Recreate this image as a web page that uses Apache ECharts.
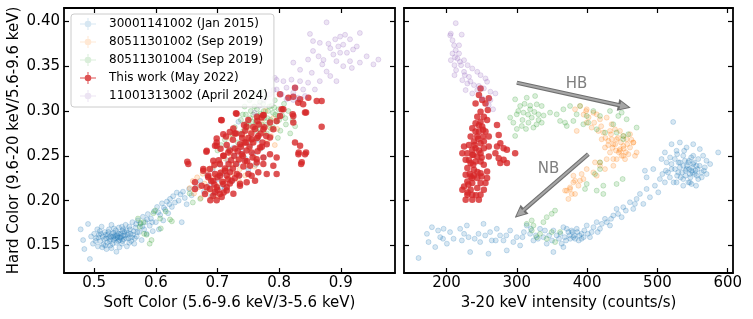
<!DOCTYPE html>
<html><head><meta charset="utf-8">
<script src="https://cdn.jsdelivr.net/npm/echarts@6/dist/echarts.min.js"></script>
<style>html,body{margin:0;padding:0;background:#fff}#c{width:753px;height:319px}</style>
</head><body><div id="c"></div>
<script>
const seriesNames = ['30001141002 (Jan 2015)','80511301002 (Sep 2019)','80511301004 (Sep 2019)','This work (May 2022)','11001313002 (April 2024)'];
const seriesColors = ['31,119,180','255,127,14','44,160,44','214,39,40','148,103,189'];
const softTicks = [0.5,0.6,0.7,0.8,0.9];
const hardTicks = [0.15,0.20,0.25,0.30,0.35,0.40];
const intensityTicks = [200,300,400,500,600];
const softRange = [0.451,0.988];
const hardRange = [0.1193,0.4149];
const intensityRange = [139.5,607.5];

// Left panel: [soft color, hard color]
const blueLeft = [
[0.478,0.168],[0.484,0.146],[0.482,0.156],[0.493,0.135],[0.490,0.174],[0.495,0.160],[0.498,0.152],[0.500,0.163],[0.503,0.158],[0.505,0.168],[0.506,0.149],[0.508,0.162],[0.510,0.155],[0.512,0.171],[0.514,0.160],[0.515,0.151],[0.517,0.165],[0.519,0.158],[0.520,0.146],[0.522,0.162],[0.524,0.168],[0.525,0.155],[0.527,0.160],[0.528,0.173],[0.530,0.152],[0.531,0.164],[0.533,0.158],[0.535,0.167],[0.536,0.143],[0.537,0.161],[0.539,0.155],[0.540,0.170],[0.542,0.159],[0.543,0.163],[0.545,0.152],[0.546,0.166],[0.548,0.157],[0.550,0.161],[0.551,0.173],[0.553,0.149],[0.555,0.164],[0.556,0.158],[0.558,0.168],[0.560,0.155],[0.562,0.176],[0.563,0.162],[0.565,0.152],[0.567,0.170],[0.569,0.160],[0.571,0.178],[0.573,0.165],[0.575,0.174],[0.577,0.156],[0.579,0.182],[0.581,0.168],[0.583,0.176],[0.585,0.163],[0.587,0.185],[0.590,0.172],[0.592,0.180],[0.595,0.166],[0.597,0.188],[0.600,0.176],[0.602,0.193],[0.605,0.168],[0.607,0.184],[0.610,0.197],[0.612,0.178],[0.615,0.190],[0.618,0.199],[0.620,0.186],[0.623,0.202],[0.626,0.193],[0.628,0.205],[0.631,0.198],[0.634,0.209],[0.637,0.200],[0.640,0.207],[0.642,0.176],[0.644,0.210],[0.647,0.203],[0.650,0.196],[0.654,0.213],[0.658,0.206],
[0.665,0.215],[0.672,0.222],[0.678,0.210],[0.683,0.228],[0.688,0.218],[0.692,0.235],[0.695,0.208],[0.700,0.224],[0.704,0.240],[0.708,0.230],[0.712,0.214],[0.716,0.245],[0.720,0.236],[0.724,0.222],[0.728,0.250],[0.732,0.241],[0.734,0.288],[0.736,0.228],[0.740,0.256],[0.745,0.247],[0.750,0.235],[0.753,0.262],[0.758,0.252],[0.762,0.240],[0.766,0.268],[0.770,0.258],[0.775,0.248],[0.726,0.259],[0.705,0.215],[0.690,0.205],
[0.518,0.150],[0.528,0.147],[0.541,0.148],[0.532,0.169],[0.545,0.171],[0.509,0.166],[0.552,0.167],[0.526,0.157],[0.538,0.164],[0.547,0.161],
[0.502,0.155],[0.507,0.159],[0.511,0.163],[0.513,0.148],[0.516,0.157],[0.521,0.153],[0.523,0.165],[0.526,0.150],[0.529,0.163],[0.532,0.156],[0.534,0.161],[0.536,0.153],[0.538,0.159],[0.540,0.163],[0.541,0.156],[0.544,0.160],[0.546,0.155],[0.549,0.165],[0.552,0.158],[0.554,0.162],[0.557,0.153],[0.559,0.163],[0.561,0.159],[0.564,0.166],[0.566,0.158],[0.570,0.165],[0.524,0.159],[0.531,0.160],[0.535,0.158],[0.543,0.158],[0.519,0.162],[0.547,0.168],[0.557,0.171],[0.568,0.174],[0.578,0.171],[0.586,0.179],[0.594,0.176],[0.604,0.187],[0.613,0.192],[0.622,0.196]
];
const orangeLeft = [
[0.655,0.214],[0.660,0.222],[0.662,0.208],[0.667,0.226],[0.670,0.215],[0.673,0.203],[0.676,0.230],[0.679,0.219],[0.682,0.210],[0.685,0.235],[0.688,0.224],[0.691,0.204],[0.694,0.238],[0.697,0.228],[0.700,0.216],[0.703,0.242],[0.706,0.232],[0.709,0.221],[0.712,0.247],[0.715,0.236],[0.718,0.226],[0.721,0.252],[0.724,0.240],[0.727,0.230],[0.730,0.258],[0.733,0.246],[0.736,0.235],[0.739,0.262],[0.742,0.250],[0.745,0.271],[0.748,0.240],[0.751,0.258],[0.754,0.276],[0.757,0.265],[0.760,0.248],[0.763,0.283],[0.766,0.270],[0.769,0.258],[0.772,0.288],[0.775,0.276],[0.778,0.300],[0.781,0.266],[0.784,0.282],[0.787,0.272],[0.790,0.292],[0.793,0.262],[0.797,0.280],[0.765,0.292],[0.750,0.282],[0.720,0.270],[0.700,0.205],[0.690,0.212],[0.735,0.222],[0.745,0.228],[0.760,0.238]
];
const greenLeft = [
[0.700,0.256],[0.706,0.262],[0.712,0.268],[0.718,0.258],[0.724,0.274],[0.728,0.282],[0.733,0.265],[0.738,0.290],[0.742,0.278],[0.746,0.296],[0.750,0.284],[0.754,0.300],[0.757,0.288],[0.760,0.305],[0.763,0.278],[0.766,0.295],[0.769,0.310],[0.772,0.285],[0.775,0.300],[0.778,0.315],[0.781,0.292],[0.784,0.305],[0.787,0.280],[0.790,0.298],[0.793,0.312],[0.796,0.288],[0.799,0.302],[0.802,0.278],[0.805,0.295],[0.808,0.308],[0.811,0.285],[0.815,0.300],[0.818,0.275],[0.822,0.290],[0.826,0.283],[0.760,0.318],[0.772,0.322],[0.752,0.312],[0.744,0.305],[0.765,0.270],[0.755,0.268],[0.780,0.275],[0.735,0.275],[0.790,0.282],[0.798,0.270],
[0.758,0.296],[0.764,0.302],[0.770,0.297],[0.776,0.292],[0.782,0.300],[0.788,0.306],[0.794,0.296],[0.800,0.290],[0.806,0.302],[0.774,0.308],[0.762,0.288],[0.768,0.280],[0.786,0.290],[0.792,0.304],[0.780,0.285],[0.798,0.295],[0.810,0.292],[0.753,0.292],[0.747,0.286],[0.741,0.296],
[0.571,0.180],[0.575,0.175],[0.581,0.163],[0.585,0.162],[0.593,0.156],[0.590,0.152],[0.596,0.186],[0.599,0.189],[0.607,0.180],[0.608,0.169],[0.616,0.188],[0.623,0.179],[0.626,0.177],[0.655,0.208],[0.660,0.198],[0.672,0.202],[0.580,0.176],[0.574,0.171]
];
const redLeft = [
[0.7068,0.2897],[0.731,0.297],[0.743,0.2844],[0.7257,0.2804],[0.720,0.2767],[0.7094,0.2741],[0.6987,0.2693],[0.7138,0.2716],[0.7393,0.2741],[0.750,0.290],[0.7646,0.2889],[0.7717,0.2927],[0.7581,0.2822],[0.7744,0.2797],[0.7662,0.2722],[0.7555,0.2686],[0.7463,0.2649],[0.7365,0.263],[0.7284,0.2582],[0.7175,0.2538],[0.7094,0.250],[0.6987,0.2649],[0.6825,0.2556],[0.6987,0.2612],[0.6932,0.2444],[0.704,0.2408],[0.651,0.2433],[0.677,0.2333],[0.6878,0.2352],[0.696,0.2297],[0.685,0.226],[0.6932,0.2222],[0.704,0.2278],[0.7122,0.2333],[0.7203,0.2316],[0.7312,0.2297],[0.723,0.2222],[0.7094,0.2186],[0.6987,0.2149],[0.6878,0.213],[0.6743,0.2167],[0.6635,0.213],[0.6797,0.2074],[0.6932,0.2056],[0.704,0.2074],[0.7365,0.2167],[0.7474,0.2204],[0.7609,0.2222],[0.7555,0.2278],[0.7662,0.2316],[0.7799,0.2297],[0.7744,0.2408],[0.7528,0.2389],[0.7636,0.2463],[0.7447,0.2444],[0.7393,0.2519],[0.7555,0.2538],[0.769,0.2593],[0.7799,0.263],[0.7852,0.2704],[0.7906,0.2797],[0.7852,0.2871],[0.796,0.2889],[0.8015,0.2944],[0.8068,0.3019],[0.822,0.2963],[0.823,0.2871],[0.8437,0.2982],[0.8318,0.2538],[0.8437,0.2538],[0.8367,0.2427],[0.861,0.3111],[0.8258,0.2649],[0.7852,0.2519],[0.7906,0.2389],[0.796,0.2297],
[0.8258,0.326],[0.8015,0.3186],[0.815,0.3149],[0.823,0.316],[0.834,0.313],[0.8474,0.3149],[0.831,0.3093],[0.839,0.3074],[0.869,0.3111],[0.842,0.2982],[0.823,0.2944],[0.804,0.3019],[0.774,0.2952],[0.869,0.2825],[0.834,0.2612],[0.730,0.2974],[0.706,0.290],[0.682,0.2545],[0.696,0.2612],[0.728,0.275],[0.747,0.2825],[0.764,0.2937],[0.775,0.2955],
[0.6527,0.2408],[0.6635,0.2206],[0.677,0.2353],[0.6825,0.215],[0.6884,0.2004],[0.6987,0.2004],[0.7068,0.204],[0.696,0.2096],[0.715,0.2114],[0.7258,0.2077],[0.7366,0.2188],[0.7501,0.2298],[0.7637,0.2426],[0.7745,0.2482],[0.796,0.2482],[0.8313,0.2518],[0.842,0.2518],[0.8357,0.2408],
[0.690,0.222],[0.695,0.218],[0.700,0.226],[0.705,0.231],[0.708,0.221],[0.712,0.236],[0.715,0.228],[0.718,0.241],[0.720,0.219],[0.722,0.245],[0.725,0.236],[0.727,0.250],[0.730,0.241],[0.733,0.255],[0.735,0.246],[0.738,0.260],[0.741,0.250],[0.744,0.265],[0.747,0.256],[0.750,0.270],[0.752,0.260],[0.755,0.275],[0.758,0.265],[0.761,0.280],[0.764,0.270],[0.767,0.285],[0.770,0.275],[0.773,0.265],[0.776,0.282],[0.779,0.272],[0.700,0.212],[0.710,0.209],[0.715,0.215],[0.685,0.228],[0.695,0.240],[0.702,0.245],[0.710,0.250],[0.705,0.258],[0.715,0.262],[0.725,0.268],[0.730,0.275],[0.740,0.270],[0.745,0.278],[0.720,0.256],[0.742,0.238],[0.748,0.244],[0.757,0.248],[0.765,0.255],[0.772,0.260],[0.735,0.228],[0.728,0.225],[0.717,0.224]
];
const purpleLeft = [
[0.877,0.3989],[0.850,0.386],[0.907,0.385],[0.931,0.387],[0.899,0.383],[0.855,0.378],[0.866,0.376],[0.880,0.375],[0.891,0.380],[0.904,0.374],[0.915,0.380],[0.920,0.3686],[0.910,0.365],[0.899,0.365],[0.888,0.363],[0.883,0.370],[0.855,0.367],[0.864,0.361],[0.847,0.3574],[0.872,0.357],[0.893,0.3556],[0.915,0.3556],[0.904,0.350],[0.918,0.348],[0.931,0.354],[0.942,0.361],[0.953,0.352],[0.961,0.3574],[0.823,0.354],[0.834,0.346],[0.853,0.3426],[0.877,0.344],[0.883,0.339],[0.893,0.3333],[0.866,0.3333],[0.847,0.3316],[0.834,0.3333],[0.820,0.335],[0.807,0.3333],[0.812,0.326],[0.826,0.326],[0.839,0.324],[0.858,0.324],[0.793,0.337],[0.796,0.324],[0.804,0.3186],[0.823,0.3204],[0.785,0.3186],[0.812,0.313],[0.831,0.3149],[0.842,0.3167],[0.796,0.3347],[0.791,0.3235],[0.823,0.3123],[0.775,0.312],[0.768,0.306],[0.760,0.298],[0.870,0.352],[0.896,0.372],[0.926,0.372]
];

// Right panel: [3-20 keV intensity, hard color]
const blueRight = [
[160.2,0.136],[172.1,0.163],[179.2,0.1704],[174.4,0.1538],[183.9,0.1482],[191,0.1593],[195.8,0.1686],[200.5,0.152],[210,0.1575],[219.4,0.1686],[221.8,0.1556],[228.9,0.1723],[231.3,0.1593],[233.6,0.1427],[245.5,0.163],[247.8,0.1538],[252.6,0.1741],[262,0.1649],[264.4,0.1556],[271.5,0.1686],[276.2,0.1612],[285.7,0.1445],[281,0.1556],[290.5,0.1667],[299.9,0.1593],[304.7,0.15],[314.1,0.1723],[318.9,0.163],[323.6,0.1556],[333,0.1686],[337.8,0.1593],[342.5,0.152],[352,0.1667],[356.7,0.1612],[363.8,0.152],[366.2,0.1704],[373.3,0.1649],[380.4,0.1593],[385.2,0.1686],[392.2,0.163],[399.4,0.1723],[406.5,0.1649],[413.6,0.176],[418.3,0.1686],[425.4,0.1797],[432.5,0.1723],[437.2,0.1834],[441.9,0.1908],[449.1,0.1816],[451.4,0.1927],[460.9,0.1982],[465.6,0.1908],[470.4,0.2019],[475.1,0.2075],[479.9,0.1964],[484.6,0.213],[489.3,0.2038],[496.4,0.2167],[501.2,0.2093],[484.6,0.226],[494.1,0.2352],[482.2,0.2334],[505.9,0.2464],[510.6,0.2538],[520.1,0.263],[527.2,0.2556],[531.9,0.2649],[541.4,0.2593],[550.9,0.263],[560.3,0.2575],[565,0.2501],[569.8,0.2445],[586.4,0.2538],[522.4,0.2878],[513,0.2426],[520.1,0.2352],[529.6,0.2315],[536.7,0.2389],[543.8,0.2426],[548.5,0.2334],[555.6,0.2389],[562.7,0.2315],[558,0.2241],[546.1,0.2204],[536.7,0.2241],[527.2,0.2204],[517.7,0.226],[550.9,0.2501],[536.7,0.2501],[524.8,0.2464],[546.1,0.2297],[541.4,0.2352],[553.2,0.2297],[567.4,0.2371],[531.9,0.2371],[510.6,0.2204],[503.5,0.2241],[536.7,0.2167],[548.5,0.2186],
[352,0.1427],[366.2,0.1482],[259.7,0.1408],[376,0.1575],[382,0.1612],[388,0.1556],[395,0.1593],[378,0.1667],[370,0.1556],[360,0.1575],[346,0.1612],[327,0.1612],[308,0.1593],[295,0.1538],[240,0.1575],[205,0.1649],[188,0.1667],[540,0.2278],[532,0.2426],[545,0.2445],[557,0.2352],[515,0.2315],[528,0.2278],[551,0.2408],
[520,0.2408],[525,0.2352],[530,0.2426],[535,0.2315],[540,0.2334],[542,0.2390],[545,0.2352],[547,0.2260],[550,0.2315],[552,0.2426],[554,0.2334],[556,0.2278],[558,0.2464],[560,0.2389],[563,0.2260],[566,0.2334],[518,0.2482],[528,0.2519],[538,0.2556],[548,0.2482],[533,0.2260],[544,0.2204],[555,0.2167],[523,0.2204],[512,0.2334],[507,0.2297],[570,0.2297],[575,0.2408],[539,0.2445],[549,0.2371],
[362,0.1630],[368,0.1593],[371,0.1686],[375,0.1612],[379,0.1649],[383,0.1575],[386,0.1649],[389,0.1612],[392,0.1575],[396,0.1667],[401,0.1630],[404,0.1593],[409,0.1704],[415,0.1649],[421,0.1741],[428,0.1760],[434,0.1797],[444,0.1852],[455,0.1889],[468,0.1964],[310,0.1649],[320,0.1686],[330,0.1575],[340,0.1667],[350,0.1556],[285,0.1612],[270,0.1556],[255,0.1612],[225,0.1630],[195,0.1575]
];
const orangeRight = [
[390,0.3056],[398.5,0.2999],[408.9,0.2981],[418.3,0.2907],[427.8,0.2926],[434.9,0.2852],[439.6,0.2796],[446.7,0.2778],[451.5,0.2722],[456.2,0.2685],[461,0.2741],[465.7,0.2648],[468.1,0.25],[458.6,0.2518],[446.7,0.2574],[437.3,0.263],[430.2,0.2667],[420.7,0.2685],[425.4,0.2593],[432.5,0.2537],[442,0.2463],[451.5,0.25],[427.8,0.2463],[418.3,0.2426],[437.3,0.2389],[425.4,0.2352],[413.6,0.2278],[408.9,0.2315],[380.5,0.2278],[394.7,0.2241],[382.8,0.2222],[387.6,0.2167],[375.7,0.2148],[371,0.2111],[378.1,0.2074],[399.4,0.287],[385.2,0.2778],[406.5,0.2815],[416,0.2778],[423,0.2759],[432.5,0.2778],[442,0.2685],[451.5,0.2611],[461,0.2593],[453.9,0.2463],[434.9,0.2685],
[411.2,0.2427],[399.4,0.2352],[392.2,0.2297],[389.9,0.2223],[380.4,0.2204],[375.7,0.213],[368.6,0.2112],[382.8,0.2075],[373.3,0.2019],[437.2,0.2464],[446.7,0.2556],[465.6,0.2649],[470.4,0.2538],[418.3,0.2389],[382.8,0.3019],[399.4,0.3019],[413.6,0.2963],
[440,0.2630],[444,0.2700],[448,0.2650],[452,0.2580],[455,0.2540],[449,0.2500],[445,0.2540],[436,0.2590],[441,0.2560],[457,0.2630],[463,0.2680],[430,0.2620],[426,0.2700],[434,0.2740],[410,0.2870],[420,0.2830],[402,0.2930],[395,0.2960]
];
const greenRight = [
[297.6,0.313],[314.1,0.3148],[326,0.3167],[304.7,0.3056],[290.5,0.2926],[299.9,0.2963],[309.4,0.2982],[318.9,0.3019],[328.3,0.3074],[335.4,0.3056],[321.2,0.2926],[330.7,0.2963],[316.5,0.287],[307,0.2833],[323.6,0.2815],[297.6,0.2722],[335.4,0.287],[347.3,0.2982],[356.7,0.2963],[366.2,0.3019],[375.7,0.3056],[389.9,0.3056],[361.5,0.2889],[371,0.2833],[385.1,0.2963],[399.4,0.2945],[408.8,0.30],[418.3,0.2945],[432.5,0.30],[444.3,0.2945],[449.1,0.2982],[456.2,0.2908],[470.4,0.2815],[394.6,0.2852],[413.6,0.2796],[437.2,0.2852],[451.4,0.2722],[458.5,0.2741],[425.4,0.2759],[368.6,0.287],[380.4,0.2889],[401.7,0.287],[441.9,0.276],[451.4,0.2686],[418.3,0.2427],
[302,0.3000],[311,0.3080],[316,0.2960],[325,0.2990],[331,0.2900],[308,0.2900],[319,0.3060],[295,0.2870],[328,0.2850],[338,0.2950],[313,0.2800],[300,0.2800],
[411.2,0.2297],[418.3,0.2352],[399.4,0.2186],[397,0.213],[413.6,0.2112],[423,0.2167],[441.9,0.2186],[450.5,0.2241],[423,0.2075],[354.4,0.1889],[349.6,0.1853],[342.5,0.1816],[337.8,0.176],[323.6,0.1723],[314.1,0.1741],[321.2,0.1667],[333,0.163],[328.3,0.1593],[342.5,0.1575],[349.6,0.1649],[354.4,0.1538],[361.5,0.1649],[321.2,0.1779]
];
const redRight = [
[248.4,0.3252],[246.1,0.3178],[250.8,0.3122],[260.1,0.3141],[241.3,0.3085],[255.4,0.3085],[258.7,0.3011],[248.4,0.2993],[243.7,0.2937],[253.1,0.2937],[248.4,0.2881],[257.7,0.29],[241.3,0.2863],[236.6,0.2807],[250.7,0.2826],[245.9,0.277],[255.4,0.277],[243.6,0.2715],[234.3,0.2715],[252.1,0.2715],[260.1,0.2715],[239,0.2659],[248.4,0.2641],[231.9,0.2622],[224.9,0.2604],[241.3,0.2585],[253.1,0.2585],[260.1,0.2604],[271.8,0.2844],[274.2,0.2733],[276.5,0.2641],[271.8,0.2604],[281.2,0.2585],[285.9,0.2567],[297.6,0.253],[222.5,0.253],[229.6,0.253],[236.6,0.2511],[243.7,0.2493],[248.4,0.253],[260.1,0.2493],[269.5,0.253],[274.2,0.2474],[281.2,0.2456],[285.9,0.2419],[276.5,0.2419],[227.2,0.2456],[234.3,0.2419],[241.3,0.2437],[253,0.24],[229.6,0.2363],[239,0.2344],[248.4,0.2307],[257.7,0.2326],[227.2,0.2289],[234.3,0.227],[243.7,0.2252],[229.6,0.2215],[236.6,0.2196],[248.4,0.2196],[255.4,0.2196],[224.9,0.2159],[234.3,0.2122],[243.7,0.2141],[253.1,0.2122],[222.5,0.2122],[229.6,0.2067],[236.6,0.2067],[248.4,0.2067],[227.2,0.2011],[236.6,0.2011],[246,0.2011],[236.6,0.2252],[257.7,0.2252],[248.4,0.2437],[241.3,0.277],[253.1,0.2659],[236.6,0.2567],
[244,0.2320],[238,0.2400],[250,0.2480],[232,0.2450],[246,0.2560],[240,0.2620],[252,0.2790],[246,0.2840],[239,0.2280],[231,0.2180],[242,0.2060],[233,0.2300],[245,0.2690],[238,0.2510],[230,0.2090],[250,0.2270]
];
const purpleRight = [
[213.1,0.398],[205.2,0.3844],[221.6,0.3852],[208.5,0.3789],[210.8,0.3733],[213.1,0.3678],[208.5,0.3641],[217.8,0.3641],[215.5,0.3585],[206.1,0.3567],[224.9,0.3567],[211.3,0.3511],[220.7,0.3511],[230,0.3511],[213.6,0.3456],[224.9,0.3437],[236.6,0.3474],[243.7,0.3437],[211.3,0.34],[222.5,0.3344],[231.9,0.3381],[248.4,0.34],[255.4,0.3363],[229.6,0.3307],[239,0.3289],[257.7,0.3326],[243.7,0.3233],[253.1,0.3252],[262.4,0.3215],[269.5,0.3196],[236.6,0.3196],[227.2,0.3233],[250.7,0.3141],[262.4,0.3122],[266.2,0.3019],[260.1,0.3067],[217.8,0.3733],[206.1,0.3863],[212,0.3600],[219,0.3550],[226,0.3400],[234,0.3330],[246,0.3280]
];

const hbArrow = [[300,0.3316],[453,0.3052]];
const nbArrow = [[401.7,0.2519],[304,0.1856]];
const annotations = [{name:'HB', coord:[385,0.3295]},{name:'NB', coord:[345,0.2349]}];

const FONT = 'DejaVu Sans';
const rgba = (c,a) => 'rgba(' + c + ',' + a + ')';
const legendIcon = 'path://M0,0h0.01v0.01h-0.01z M28,14h0.01v0.01h-0.01z M4,6.5h16v1h-16z M11.5,1h1v12h-1z M15.3,7a3.3,3.3 0 1,1 -6.6,0a3.3,3.3 0 1,1 6.6,0z';

function scatter(idx, data, panel) {
  const solid = idx === 3;
  const c = seriesColors[idx];
  return {
    type: 'scatter', name: seriesNames[idx],
    xAxisIndex: panel * 2, yAxisIndex: panel * 2,
    data: data, symbol: 'circle',
    symbolSize: solid ? 6.5 : 5,
    itemStyle: solid ? {color: rgba(c,1)} : {color: rgba(c,0.22), borderColor: rgba(c,0.35), borderWidth: 0.8},
    emphasis: {disabled: true}, silent: true
  };
}

const axisLineStyle = {show: true, onZero: false, lineStyle: {color: '#000', width: 1.8}};
function xAx(gi, range, ticks, fmt, name, showLabel, top) {
  return {
    type: 'value', gridIndex: gi, min: range[0], max: range[1], position: top ? 'top' : 'bottom',
    axisLine: axisLineStyle,
    axisTick: {show: true, inside: true, length: 5, lineStyle: {color: '#000', width: 1.2}, customValues: ticks},
    axisLabel: {show: showLabel, customValues: ticks, formatter: fmt, margin: 3, fontSize: 15, fontFamily: FONT, color: '#000'},
    splitLine: {show: false},
    name: name, nameLocation: 'middle', nameGap: 20,
    nameTextStyle: {fontSize: 15, fontFamily: FONT, color: '#000'}
  };
}
function yAx(gi, right, showLabel, name) {
  return {
    type: 'value', gridIndex: gi, min: hardRange[0], max: hardRange[1], position: right ? 'right' : 'left',
    axisLine: axisLineStyle,
    axisTick: {show: true, inside: true, length: 5, lineStyle: {color: '#000', width: 1.2}, customValues: hardTicks},
    axisLabel: {show: showLabel, customValues: hardTicks, formatter: v => v.toFixed(2), margin: 4, fontSize: 15, fontFamily: FONT, color: '#000'},
    splitLine: {show: false},
    name: name, nameLocation: 'middle', nameGap: 42, nameRotate: 90,
    nameTextStyle: {fontSize: 15, fontFamily: FONT, color: '#000'}
  };
}

function arrowLayer(color, width, headSize, z) {
  return {
    type: 'scatter', xAxisIndex: 2, yAxisIndex: 2, data: [], silent: true, z: z,
    markLine: {
      silent: true, symbol: ['none', 'triangle'], symbolSize: headSize, animation: false,
      label: {show: false},
      lineStyle: {color: color, width: width, type: 'solid', opacity: 1},
      emphasis: {disabled: true},
      data: [
        [{coord: hbArrow[0]}, {coord: hbArrow[1]}],
        [{coord: nbArrow[0]}, {coord: nbArrow[1]}]
      ]
    }
  };
}

const series = [
  scatter(0, blueLeft, 0), scatter(1, orangeLeft, 0), scatter(2, greenLeft, 0), scatter(3, redLeft, 0), scatter(4, purpleLeft, 0),
  scatter(0, blueRight, 1), scatter(1, orangeRight, 1), scatter(2, greenRight, 1), scatter(3, redRight, 1), scatter(4, purpleRight, 1)
];
series.push(arrowLayer('#6f6f6f', 4.2, [12, 13], 10));
series.push(arrowLayer('#a6a6a6', 2, [8, 8.5], 11));
series.push({
  type: 'scatter', xAxisIndex: 2, yAxisIndex: 2, data: [], silent: true, z: 12,
  markPoint: {
    silent: true, symbol: 'circle', symbolSize: 0, animation: false,
    label: {show: true, position: 'inside', formatter: p => p.name, fontSize: 15, fontFamily: FONT, color: '#7f7f7f'},
    data: annotations.map(a => ({name: a.name, coord: a.coord}))
  }
});

const chart = echarts.init(document.getElementById('c'), null, {renderer: 'canvas'});
chart.setOption({
  animation: false,
  backgroundColor: '#fff',
  grid: [
    {left: 64, top: 8, width: 331, height: 265},
    {left: 404, top: 8, width: 329, height: 265}
  ],
  xAxis: [
    xAx(0, softRange, softTicks, v => v.toFixed(1), 'Soft Color (5.6-9.6 keV/3-5.6 keV)', true, false),
    xAx(0, softRange, softTicks, v => v.toFixed(1), '', false, true),
    xAx(1, intensityRange, intensityTicks, v => String(Math.round(v)), '3-20 keV intensity (counts/s)', true, false),
    xAx(1, intensityRange, intensityTicks, v => String(Math.round(v)), '', false, true)
  ],
  yAxis: [
    yAx(0, false, true, 'Hard Color (9.6-20 keV/5.6-9.6 keV)'),
    yAx(0, true, false, ''),
    yAx(1, false, false, ''),
    yAx(1, true, false, '')
  ],
  legend: {
    left: 71, top: 14, orient: 'vertical', data: seriesNames,
    icon: legendIcon, itemWidth: 28, itemHeight: 14, itemGap: 4,
    padding: [3, 6, 4, 5],
    borderColor: '#cccccc', borderWidth: 1, borderRadius: 3,
    backgroundColor: 'rgba(255,255,255,0.8)',
    itemStyle: {borderWidth: 0},
    textStyle: {fontSize: 12, fontFamily: FONT, color: '#000'},
    selectedMode: false
  },
  series: series
});
</script>
</body></html>
